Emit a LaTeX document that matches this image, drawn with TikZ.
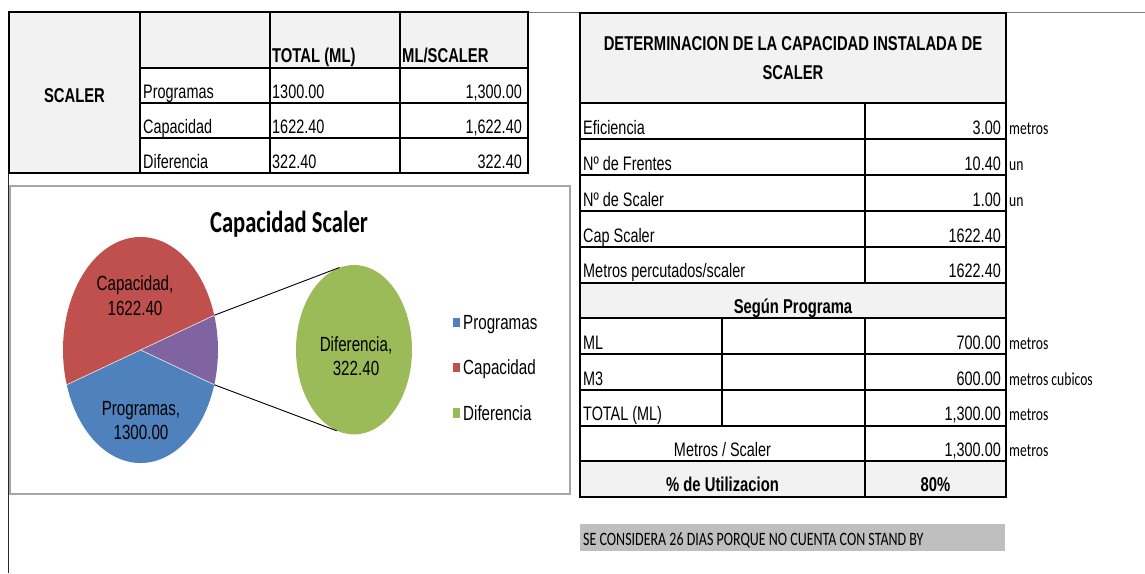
\documentclass[tikz,border=0pt]{standalone}
\usepackage{fontspec}
\setmainfont{Liberation Sans}[FakeStretch=0.74]
\newfontfamily\calib{Carlito}[FakeStretch=0.74]
\usetikzlibrary{shapes.geometric}
\definecolor{cellgray}{HTML}{F2F2F2}
\definecolor{notegray}{HTML}{BFBFBF}
\definecolor{pblue}{HTML}{4F81BD}
\definecolor{pred}{HTML}{C0504D}
\definecolor{ppurple}{HTML}{8064A2}
\definecolor{pgreen}{HTML}{9BBB59}
\definecolor{chartgray}{HTML}{A6A6A6}
\tikzset{
  tx/.style={font=\fontsize{19.5}{22}\selectfont, inner sep=0pt},
  bx/.style={font=\fontsize{20}{22}\selectfont\bfseries, inner sep=0pt},
  lt/.style={tx, anchor=base west},
  rt/.style={tx, anchor=base east},
  ct/.style={tx, anchor=base},
  unit/.style={font=\calib\fontsize{18.4}{20}\selectfont, anchor=base west, inner sep=0pt},
  pl/.style={font=\fontsize{20.5}{22}\selectfont, anchor=base, inner sep=0pt},
  lg/.style={font=\fontsize{20.5}{22}\selectfont, anchor=base west, inner sep=0pt},
  hl/.style={line width=2pt},
  vl/.style={line width=1.3pt},
}
\begin{document}
\begin{tikzpicture}[x=1pt,y=-1pt]
\useasboundingbox (0,0) rectangle (1145,573);
\fill[white] (0,0) rectangle (1145,573);
% sheet lines
\draw[gray, line width=0.8pt] (528,12) -- (1145,12);
\draw[black!85, line width=1.5pt] (8.5,12) -- (8.5,573);

% ---------- left table ----------
\fill[cellgray] (9,12) rectangle (140,173);
\fill[cellgray] (140,12) rectangle (528,68);
\foreach \yy in {68,103,138} \draw[hl] (140,\yy) -- (528,\yy);
\foreach \xx in {140,270,400} \draw[vl] (\xx,12) -- (\xx,173);
\draw[hl] (9,12) rectangle (528,173);

\node[ct,bx] (scaler) at (74.5,102) {SCALER};
\node[lt,bx] (htot) at (272,62) {TOTAL (ML)};
\node[lt,bx] (hmls) at (402,62) {ML/SCALER};
\node[lt] (lprog) at (143,98) {Programas};
\node[lt] (lprogt) at (272,98) {1300.00};
\node[rt] (lprogm) at (522,98) {1,300.00};
\node[lt] (lcap) at (143,133) {Capacidad};
\node[lt] (lcapt) at (272,133) {1622.40};
\node[rt] (lcapm) at (522,133) {1,622.40};
\node[lt] (ldif) at (143,168) {Diferencia};
\node[lt] (ldift) at (272,168) {322.40};
\node[rt] (ldifm) at (522,168) {322.40};

% ---------- chart ----------
\draw[chartgray, line width=1.5pt, fill=white] (10,186) rectangle (570,494);
\node[font=\calib\bfseries\fontsize{30.5}{32}\selectfont, anchor=base, inner sep=0pt] (title) at (289,232) {Capacidad Scaler};
\begin{scope}[shift={(140.5,350)}, xscale=0.6858]
  \fill[pblue] (0,0) -- (17.9:113) arc[start angle=17.9, end angle=162.1, radius=113] -- cycle;
  \fill[pred] (0,0) -- (162.1:113) arc[start angle=162.1, end angle=342.1, radius=113] -- cycle;
  \fill[ppurple] (0,0) -- (-17.9:113) arc[start angle=-17.9, end angle=17.9, radius=113] -- cycle;
  \draw[white!85!gray, line width=0.6pt] (0,0) -- (17.9:113) (0,0) -- (162.1:113) (0,0) -- (-17.9:113);
  \coordinate (pa) at (-17.9:113);
  \coordinate (pb) at (17.9:113);
\end{scope}
\node[ellipse, fill=pgreen, minimum width=116pt, minimum height=169.4pt, inner sep=0pt] (dif) at (354,349.7) {};
\draw[black, line width=0.9pt] (pa) -- (dif.100);
\draw[black, line width=0.9pt] (pb) -- (dif.258);
\node[pl] (cl1) at (135,290.5) {Capacidad,};
\node[pl] (cl2) at (135,315.5) {1622.40};
\node[pl] (pl1) at (141,415.5) {Programas,};
\node[pl] (pl2) at (141,439) {1300.00};
\node[pl] (dl1) at (356,351) {Diferencia,};
\node[pl] (dl2) at (356,375) {322.40};
% legend
\fill[pblue] (452.5,317.7) rectangle (460,327.3);
\fill[pred] (452.5,362.7) rectangle (460,372.3);
\fill[pgreen] (452.5,408.2) rectangle (460,417.8);
\node[lg] (lg1) at (463,329.5) {Programas};
\node[lg] (lg2) at (463,374.5) {Capacidad};
\node[lg] (lg3) at (463,420) {Diferencia};

% ---------- right table ----------
\fill[cellgray] (580,13) rectangle (1006,102.5);
\fill[cellgray] (580,282.7) rectangle (1006,318.3);
\fill[cellgray] (580,461) rectangle (1006,496.7);
\foreach \yy in {102.5,139,174.7,210.7,246.7,282.7,318.3,354,390,425.7,461} \draw[hl] (580,\yy) -- (1006,\yy);
\draw[vl] (865,102.5) -- (865,282.7);
\draw[vl] (865,318.3) -- (865,496.7);
\draw[vl] (722,318.3) -- (722,425.7);
\draw[hl] (580,13) rectangle (1006,496.7);

\node[ct,bx] (rh1) at (793,50) {DETERMINACION DE LA CAPACIDAD INSTALADA DE};
\node[ct,bx] (rh2) at (793,79) {SCALER};
\node[lt] (r1) at (583,134) {Eficiencia};
\node[rt] (v1) at (1001,134) {3.00};
\node[unit] (u1) at (1009,134) {metros};
\node[lt] (r2) at (583,170) {Nº de Frentes};
\node[rt] (v2) at (1001,170) {10.40};
\node[unit] (u2) at (1009,170) {un};
\node[lt] (r3) at (583,206) {Nº de Scaler};
\node[rt] (v3) at (1001,206) {1.00};
\node[unit] (u3) at (1009,206) {un};
\node[lt] (r4) at (583,242) {Cap Scaler};
\node[rt] (v4) at (1001,242) {1622.40};
\node[lt] (r5) at (583,277.5) {Metros percutados/scaler};
\node[rt] (v5) at (1001,277.5) {1622.40};
\node[ct,bx] (sp) at (793,313) {Según Programa};
\node[lt] (r6) at (583,349) {ML};
\node[rt] (v6) at (1001,349) {700.00};
\node[unit] (u6) at (1009,349) {metros};
\node[lt] (r7) at (583,385) {M3};
\node[rt] (v7) at (1001,385) {600.00};
\node[unit] (u7) at (1009,385) {metros cubicos};
\node[lt] (r8) at (583,420.5) {TOTAL (ML)};
\node[rt] (v8) at (1001,420.5) {1,300.00};
\node[unit] (u8) at (1009,420.5) {metros};
\node[ct] (r9) at (722.5,456) {Metros / Scaler};
\node[rt] (v9) at (1001,456) {1,300.00};
\node[unit] (u9) at (1009,456) {metros};
\node[ct,bx] (r10) at (722.5,491.5) {\% de Utilizacion};
\node[ct,bx] (v10) at (935.5,491.5) {80\%};

% note
\fill[notegray] (580,524) rectangle (1005,551);
\node[font=\calib\fontsize{18.9}{20}\selectfont, anchor=base west, inner sep=0pt] (note) at (583,545.5) {SE CONSIDERA 26 DIAS PORQUE NO CUENTA CON STAND BY};
\end{tikzpicture}
\end{document}
